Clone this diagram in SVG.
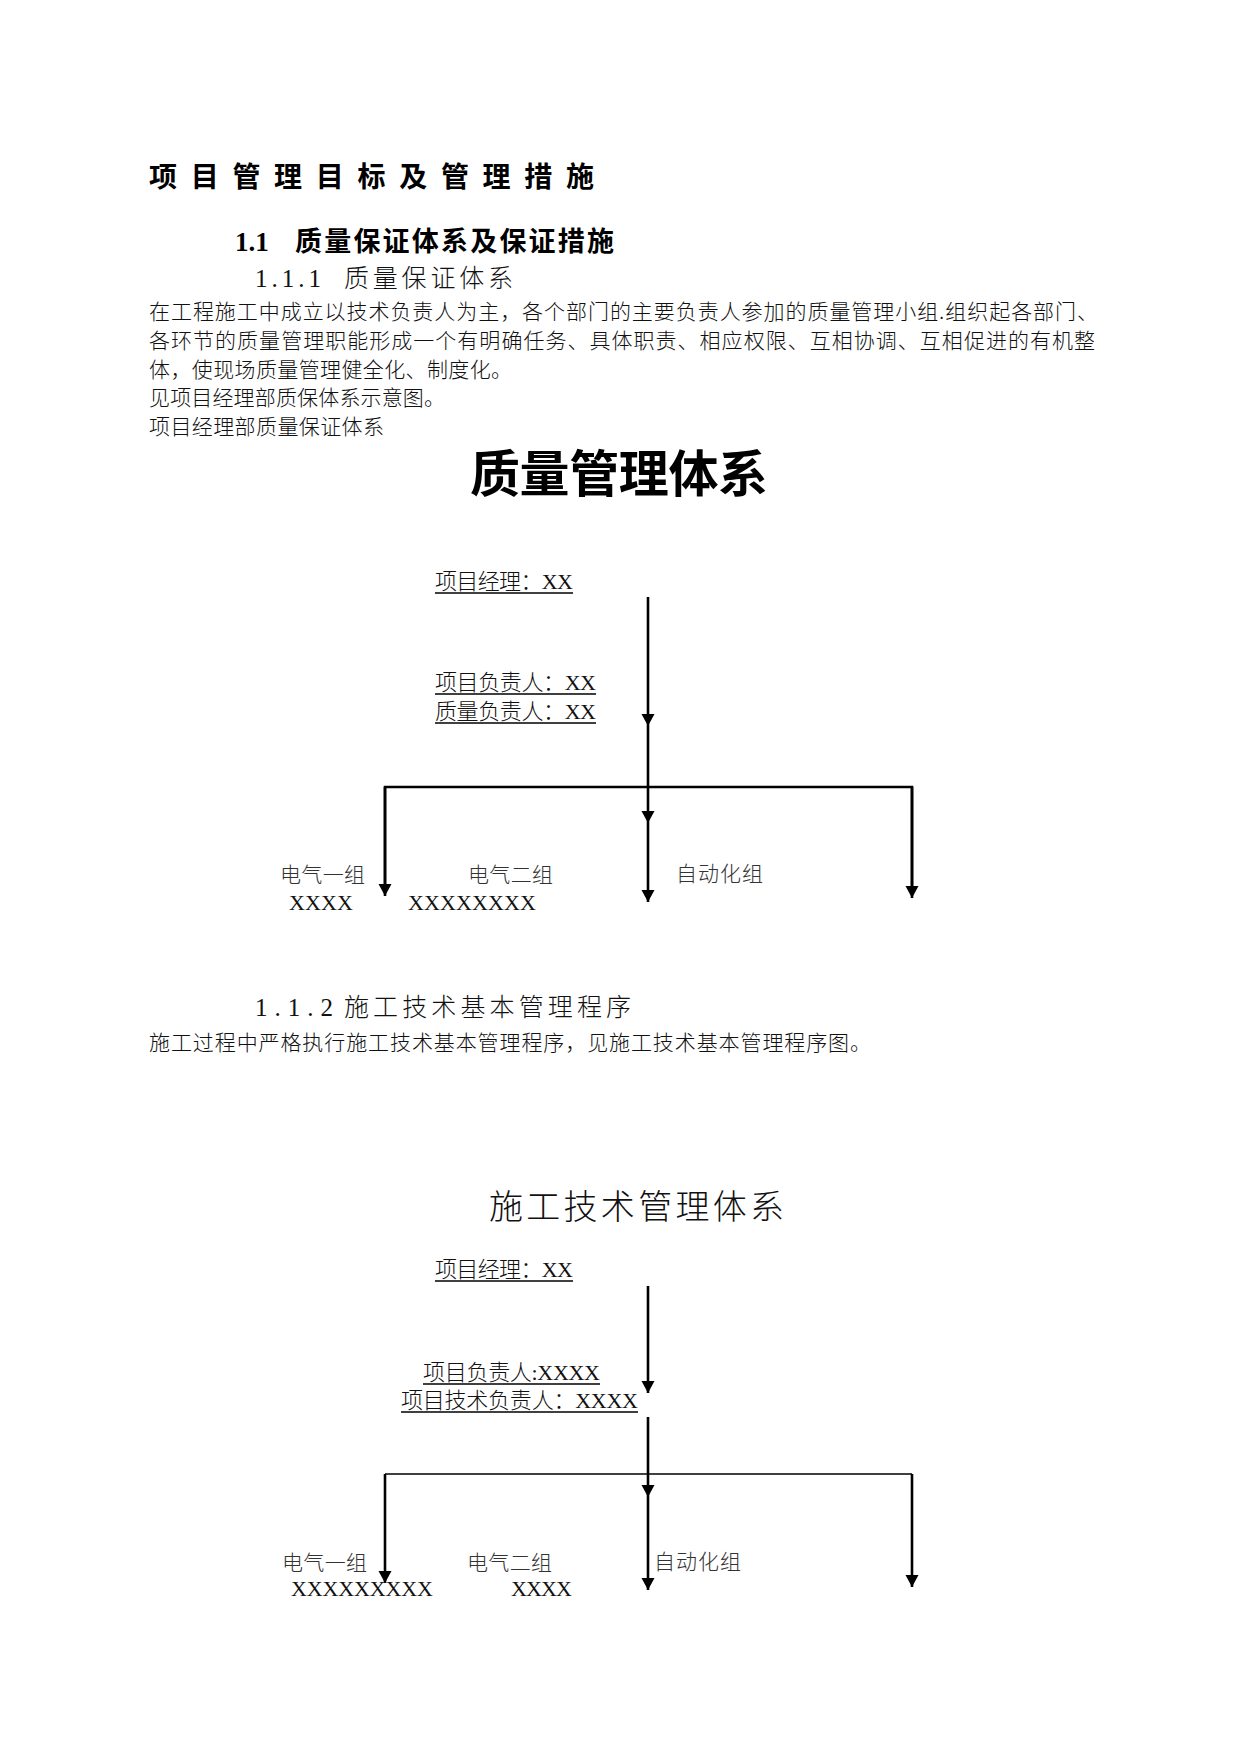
<svg xmlns="http://www.w3.org/2000/svg" width="1241" height="1754" viewBox="0 0 1241 1754">
<defs>
<style>
.h0{font-family:"Noto Sans CJK SC",sans-serif;font-weight:bold;font-size:28px;fill:#000}
.h1{font-family:"Noto Sans CJK SC",sans-serif;font-weight:bold;font-size:27px;fill:#000}
.h2{font-family:"Noto Sans CJK SC",sans-serif;font-weight:300;font-size:25px;fill:#111}
.num{font-family:"Liberation Serif",serif}
.body{font-family:"Noto Sans CJK SC",sans-serif;font-weight:300;font-size:21px;fill:#111}
.big{font-family:"Noto Sans CJK SC",sans-serif;font-weight:bold;font-size:50px;fill:#000}
.sub{font-family:"Noto Sans CJK SC",sans-serif;font-weight:300;font-size:34px;fill:#111}
.lbl{font-family:"Liberation Serif","Noto Sans CJK SC",serif;font-weight:300;font-size:22px;fill:#111}
.grp{font-family:"Liberation Serif","Noto Sans CJK SC",serif;font-weight:300;font-size:21px;fill:#333}
.ul{stroke:#000;stroke-width:1.3}
.cn{stroke:#000;stroke-width:2.6;fill:none}
.cnt{stroke:#000;stroke-width:1.6;fill:none}
</style>
<marker id="ah" markerUnits="userSpaceOnUse" markerWidth="14" markerHeight="14" viewBox="0 0 14 14" refX="12" refY="7" orient="auto">
<path d="M0,0.5 L12,7 L0,13.5 Z" fill="#000"/>
</marker>
</defs>
<rect width="1241" height="1754" fill="#fff"/>

<g id="headings">
<text class="h0" x="149" y="187" textLength="445" lengthAdjust="spacing">项目管理目标及管理措施</text>
<text class="h1" x="235" y="251"><tspan class="num" font-weight="bold">1.1</tspan><tspan x="295" textLength="319" lengthAdjust="spacing">质量保证体系及保证措施</tspan></text>
<text class="h2" x="255" y="287"><tspan class="num" letter-spacing="4">1.1.1</tspan><tspan x="344" textLength="169" lengthAdjust="spacing">质量保证体系</tspan></text>
<text class="body" x="149" y="319" textLength="949" lengthAdjust="spacing">在工程施工中成立以技术负责人为主，各个部门的主要负责人参加的质量管理小组.组织起各部门、</text>
<text class="body" x="149" y="348" textLength="946" lengthAdjust="spacing">各环节的质量管理职能形成一个有明确任务、具体职责、相应权限、互相协调、互相促进的有机整</text>
<text class="body" x="149" y="377" textLength="363" lengthAdjust="spacing">体，使现场质量管理健全化、制度化。</text>
<text class="body" x="149" y="405" textLength="296" lengthAdjust="spacing">见项目经理部质保体系示意图。</text>
<text class="body" x="149" y="434" textLength="235" lengthAdjust="spacing">项目经理部质量保证体系</text>
<text class="big" x="470" y="492" textLength="298" lengthAdjust="spacing">质量管理体系</text>
<text class="h2" x="255" y="1016"><tspan class="num" letter-spacing="7">1.1.2</tspan><tspan x="344" textLength="287" lengthAdjust="spacing">施工技术基本管理程序</tspan></text>
<text class="body" x="149" y="1050" textLength="722" lengthAdjust="spacing">施工过程中严格执行施工技术基本管理程序，见施工技术基本管理程序图。</text>
<text class="sub" x="489" y="1219" textLength="295" lengthAdjust="spacing">施工技术管理体系</text>
</g>

<g id="d1-pm">
<text class="lbl" x="435" y="589" textLength="138" lengthAdjust="spacing">项目经理：XX</text>
<line class="ul" x1="435" y1="593" x2="573" y2="593"/>
</g>
<g id="d1-resp">
<text class="lbl" x="435" y="690" textLength="161" lengthAdjust="spacing">项目负责人：XX</text>
<line class="ul" x1="435" y1="694" x2="596" y2="694"/>
<text class="lbl" x="435" y="719" textLength="161" lengthAdjust="spacing">质量负责人：XX</text>
<line class="ul" x1="435" y1="723" x2="596" y2="723"/>
</g>
<g id="d1-g1">
<text class="grp" x="280" y="882" textLength="85" lengthAdjust="spacing">电气一组</text>
<text class="lbl" x="289" y="910" textLength="64" lengthAdjust="spacing">XXXX</text>
</g>
<g id="d1-g2">
<text class="grp" x="468" y="882" textLength="85" lengthAdjust="spacing">电气二组</text>
<text class="lbl" x="408" y="910" textLength="128" lengthAdjust="spacing">XXXXXXXX</text>
</g>
<g id="d1-g3">
<text class="grp" x="676" y="881" textLength="87" lengthAdjust="spacing">自动化组</text>
</g>

<g id="d2-pm">
<text class="lbl" x="435" y="1277" textLength="138" lengthAdjust="spacing">项目经理：XX</text>
<line class="ul" x1="435" y1="1281" x2="573" y2="1281"/>
</g>
<g id="d2-resp">
<text class="lbl" x="423" y="1380" textLength="177" lengthAdjust="spacing">项目负责人:XXXX</text>
<line class="ul" x1="423" y1="1384" x2="600" y2="1384"/>
<text class="lbl" x="401" y="1408" textLength="237" lengthAdjust="spacing">项目技术负责人：XXXX</text>
<line class="ul" x1="401" y1="1412" x2="638" y2="1412"/>
</g>
<g id="d2-g1">
<text class="grp" x="282" y="1570" textLength="85" lengthAdjust="spacing">电气一组</text>
<text class="lbl" x="291" y="1596" textLength="142" lengthAdjust="spacing">XXXXXXXXX</text>
</g>
<g id="d2-g2">
<text class="grp" x="467" y="1570" textLength="85" lengthAdjust="spacing">电气二组</text>
<text class="lbl" x="511" y="1596" textLength="61" lengthAdjust="spacing">XXXX</text>
</g>
<g id="d2-g3">
<text class="grp" x="654" y="1569" textLength="87" lengthAdjust="spacing">自动化组</text>
</g>

<g id="connectors">
<line class="cn" x1="648" y1="597" x2="648" y2="726" marker-end="url(#ah)"/>
<line class="cn" x1="648" y1="726" x2="648" y2="823" marker-end="url(#ah)"/>
<line class="cn" x1="648" y1="823" x2="648" y2="902" marker-end="url(#ah)"/>
<polyline class="cn" points="385,886 385,787 912,787 912,888"/>
<line class="cn" x1="385" y1="787" x2="385" y2="896" marker-end="url(#ah)"/>
<line class="cn" x1="912" y1="787" x2="912" y2="898" marker-end="url(#ah)"/>

<line class="cn" x1="648" y1="1286" x2="648" y2="1393" marker-end="url(#ah)"/>
<line class="cn" x1="648" y1="1417" x2="648" y2="1497" marker-end="url(#ah)"/>
<line class="cn" x1="648" y1="1497" x2="648" y2="1590" marker-end="url(#ah)"/>
<line class="cnt" x1="385" y1="1474" x2="912" y2="1474"/>
<line class="cn" x1="385" y1="1474" x2="385" y2="1583" marker-end="url(#ah)"/>
<line class="cn" x1="912" y1="1474" x2="912" y2="1587" marker-end="url(#ah)"/>
</g>
</svg>
